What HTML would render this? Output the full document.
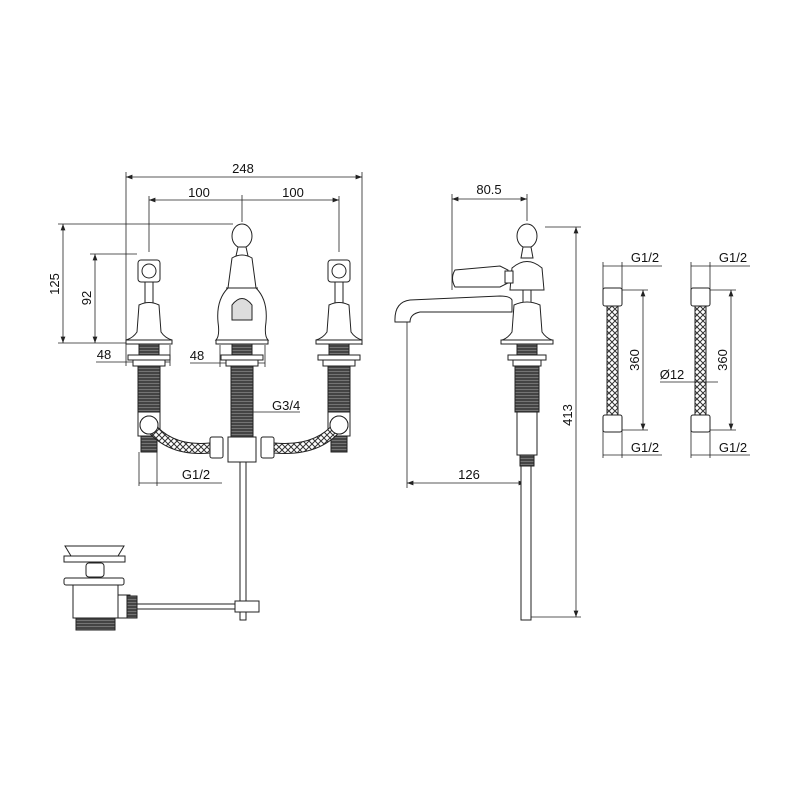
<!DOCTYPE html>
<html><head><meta charset="utf-8"><style>
html,body{margin:0;padding:0;background:#fff}
svg{display:block}
text{font-family:"Liberation Sans",sans-serif;font-size:13px;fill:#111}
</style></head><body>
<svg width="800" height="800" viewBox="0 0 800 800" xmlns="http://www.w3.org/2000/svg">
<defs>
<pattern id="thr" width="4" height="3" patternUnits="userSpaceOnUse"><rect width="4" height="3" fill="#444"/><line x1="0" y1="2.5" x2="4" y2="2.5" stroke="#888" stroke-width="0.7"/></pattern>
<pattern id="br" width="6" height="6" patternUnits="userSpaceOnUse"><rect width="6" height="6" fill="#fff"/><path d="M0 0L6 6M6 0L0 6" stroke="#333" stroke-width="1"/></pattern>
<marker id="a" markerWidth="8" markerHeight="6" refX="8" refY="3" orient="auto-start-reverse"><path d="M0 0L8 3L0 6z" fill="#222"/></marker>
</defs>
<g stroke="#222" stroke-width="0.8" fill="none">
<!-- dims left -->
<line x1="126" y1="177" x2="362" y2="177" marker-start="url(#a)" marker-end="url(#a)"/>
<line x1="126" y1="172" x2="126" y2="345"/><line x1="362" y1="172" x2="362" y2="345"/>
<line x1="149" y1="200" x2="339" y2="200" marker-start="url(#a)" marker-end="url(#a)"/>
<line x1="149" y1="196" x2="149" y2="252"/><line x1="339" y1="196" x2="339" y2="252"/><line x1="242" y1="195" x2="242" y2="222"/>
<line x1="63" y1="224" x2="63" y2="343" marker-start="url(#a)" marker-end="url(#a)"/>
<line x1="58" y1="224" x2="233" y2="224"/><line x1="58" y1="343" x2="130" y2="343"/>
<line x1="95" y1="254" x2="95" y2="343" marker-start="url(#a)" marker-end="url(#a)"/>
<line x1="90" y1="254" x2="137" y2="254"/>
<line x1="96" y1="362" x2="170" y2="362"/><line x1="126" y1="345" x2="126" y2="366"/><line x1="170" y1="345" x2="170" y2="366"/>
<line x1="190" y1="363" x2="265" y2="363"/><line x1="220" y1="345" x2="220" y2="367"/><line x1="265" y1="345" x2="265" y2="367"/>
<line x1="240" y1="412" x2="300" y2="412"/>
<line x1="139" y1="452" x2="139" y2="486"/><line x1="157" y1="452" x2="157" y2="486"/><line x1="139" y1="483" x2="222" y2="483"/>
</g>
<g>
<text x="243" y="173" text-anchor="middle">248</text>
<text x="199" y="197" text-anchor="middle">100</text>
<text x="293" y="197" text-anchor="middle">100</text>
<text transform="translate(59,284) rotate(-90)" text-anchor="middle">125</text>
<text transform="translate(91,298) rotate(-90)" text-anchor="middle">92</text>
<text x="104" y="359" text-anchor="middle">48</text>
<text x="197" y="360" text-anchor="middle">48</text>
<text x="272" y="410">G3/4</text>
<text x="196" y="479" text-anchor="middle">G1/2</text>
</g>
<!-- valves -->
<g stroke="#222" stroke-width="1" fill="#fff">
<g id="v">
<rect x="138" y="260" width="22" height="22" rx="3"/><circle cx="149" cy="271" r="7"/>
<rect x="145" y="282" width="8" height="22"/>
<path d="M139 305 Q149 300 159 305 L161 332 Q165 338 172 340 L126 340 Q133 338 137 332 Z"/>
<rect x="126" y="340" width="46" height="4"/>
<rect x="139" y="344" width="20" height="11" fill="url(#thr)"/>
<rect x="128" y="355" width="42" height="5"/>
<rect x="133" y="360" width="32" height="6"/>
<rect x="138" y="366" width="22" height="46" fill="url(#thr)"/>
<rect x="138" y="412" width="22" height="24"/>
<circle cx="149" cy="425" r="9"/>
<rect x="141" y="436" width="16" height="16" fill="url(#thr)"/>
</g>
<use href="#v" x="190"/>
<!-- center -->
<ellipse cx="242" cy="236" rx="10" ry="12"/>
<path d="M238 247 L236 256 L248 256 L246 247Z"/>
<path d="M232 258 Q242 252 252 258 L256 288 Q268 300 266 322 Q264 336 268 340 L216 340 Q220 336 218 322 Q216 300 228 288 Z"/>
<line x1="226" y1="288" x2="258" y2="288"/>
<path d="M232 320 L232 305 Q242 292 252 305 L252 320 Z" fill="#ddd"/>
<rect x="216" y="340" width="52" height="4"/>
<rect x="232" y="344" width="20" height="11" fill="url(#thr)"/>
<rect x="221" y="355" width="42" height="5"/>
<rect x="226" y="360" width="32" height="6"/>
<rect x="231" y="366" width="22" height="71" fill="url(#thr)"/>
<path d="M149 425 Q170 452 210 448" stroke="#222" stroke-width="11" fill="none"/>
<path d="M149 425 Q170 452 210 448" stroke="url(#br)" stroke-width="9" fill="none"/>
<path d="M339 425 Q318 452 274 448" stroke="#222" stroke-width="11" fill="none"/>
<path d="M339 425 Q318 452 274 448" stroke="url(#br)" stroke-width="9" fill="none"/>
<circle cx="149" cy="425" r="9"/><circle cx="339" cy="425" r="9"/>
<rect x="228" y="437" width="28" height="25"/>
<rect x="210" y="437" width="13" height="21" rx="2"/>
<rect x="261" y="437" width="13" height="21" rx="2"/>
<rect x="240" y="462" width="6" height="158"/>
<!-- waste -->
<path d="M65 546 L124 546 L118 556 L71 556 Z"/>
<rect x="64" y="556" width="61" height="6"/>
<rect x="86" y="563" width="18" height="14" rx="3"/>
<rect x="64" y="578" width="60" height="7" rx="2"/>
<rect x="73" y="585" width="45" height="33"/>
<rect x="76" y="618" width="39" height="12" fill="url(#thr)"/>
<rect x="118" y="595" width="12" height="23"/>
<rect x="127" y="596" width="10" height="22" fill="url(#thr)"/>
<rect x="137" y="604" width="100" height="5"/>
<rect x="235" y="601" width="24" height="11"/>
</g>
<!-- side view dims -->
<g stroke="#222" stroke-width="0.8" fill="none">
<line x1="452" y1="199" x2="527" y2="199" marker-start="url(#a)" marker-end="url(#a)"/>
<line x1="452" y1="194" x2="452" y2="290"/><line x1="527" y1="194" x2="527" y2="221"/>
<line x1="576" y1="227" x2="576" y2="617" marker-start="url(#a)" marker-end="url(#a)"/>
<line x1="545" y1="227" x2="581" y2="227"/><line x1="530" y1="617" x2="581" y2="617"/>
<line x1="407" y1="483" x2="525" y2="483" marker-start="url(#a)" marker-end="url(#a)"/>
<line x1="407" y1="322" x2="407" y2="488"/>
</g>
<text x="489" y="194" text-anchor="middle">80.5</text>
<text x="469" y="479" text-anchor="middle">126</text>
<text transform="translate(572,415) rotate(-90)" text-anchor="middle">413</text>
<g stroke="#222" stroke-width="1" fill="#fff">
<path d="M395 322 Q394 302 410 300 L500 296 Q510 296 512 300 L512 312 L420 312 Q410 314 410 322 Z"/>
<ellipse cx="527" cy="236" rx="10" ry="12"/>
<path d="M523 247 L521 258 L533 258 L531 247Z"/>
<path d="M512 268 Q527 255 542 268 L544 290 L510 290 Z"/>
<path d="M455 270 L500 266 L508 270 L508 283 L500 287 L455 287 Q450 278 455 270Z"/>
<rect x="505" y="271" width="8" height="12"/>
<rect x="523" y="290" width="8" height="14"/>
<path d="M514 305 Q527 299 540 305 L542 332 Q546 338 552 340 L502 340 Q508 338 512 332 Z"/>
<rect x="501" y="340" width="52" height="4"/>
<rect x="517" y="344" width="20" height="11" fill="url(#thr)"/>
<rect x="508" y="355" width="38" height="5"/>
<rect x="513" y="360" width="28" height="6"/>
<rect x="515" y="366" width="24" height="46" fill="url(#thr)"/>
<rect x="517" y="412" width="20" height="43"/>
<rect x="520" y="455" width="14" height="11" fill="url(#thr)"/>
<rect x="521" y="466" width="10" height="154"/>
</g>
<!-- hoses -->
<g stroke="#222" stroke-width="1" fill="#fff">
<g id="h">
<rect x="603" y="288" width="19" height="18" rx="2"/>
<rect x="607" y="306" width="11" height="109" fill="url(#br)"/>
<rect x="603" y="415" width="19" height="17" rx="2"/>
</g>
<use href="#h" x="88"/>
</g>
<g stroke="#222" stroke-width="0.8" fill="none">
<line x1="603" y1="262" x2="603" y2="290"/><line x1="622" y1="262" x2="622" y2="290"/><line x1="603" y1="266" x2="662" y2="266"/>
<line x1="603" y1="430" x2="603" y2="458"/><line x1="622" y1="430" x2="622" y2="458"/><line x1="603" y1="455" x2="662" y2="455"/>
<line x1="643" y1="290" x2="643" y2="430" marker-start="url(#a)" marker-end="url(#a)"/>
<line x1="622" y1="290" x2="648" y2="290"/><line x1="622" y1="430" x2="648" y2="430"/>
<line x1="691" y1="262" x2="691" y2="290"/><line x1="710" y1="262" x2="710" y2="290"/><line x1="691" y1="266" x2="750" y2="266"/>
<line x1="691" y1="430" x2="691" y2="458"/><line x1="710" y1="430" x2="710" y2="458"/><line x1="691" y1="455" x2="750" y2="455"/>
<line x1="731" y1="290" x2="731" y2="430" marker-start="url(#a)" marker-end="url(#a)"/>
<line x1="710" y1="290" x2="736" y2="290"/><line x1="710" y1="430" x2="736" y2="430"/>
<line x1="660" y1="382" x2="718" y2="382"/>
</g>
<text x="645" y="262" text-anchor="middle">G1/2</text>
<text x="645" y="452" text-anchor="middle">G1/2</text>
<text x="733" y="262" text-anchor="middle">G1/2</text>
<text x="733" y="452" text-anchor="middle">G1/2</text>
<text transform="translate(639,360) rotate(-90)" text-anchor="middle">360</text>
<text transform="translate(727,360) rotate(-90)" text-anchor="middle">360</text>
<text x="672" y="379" text-anchor="middle">Ø12</text>
</svg>
</body></html>
